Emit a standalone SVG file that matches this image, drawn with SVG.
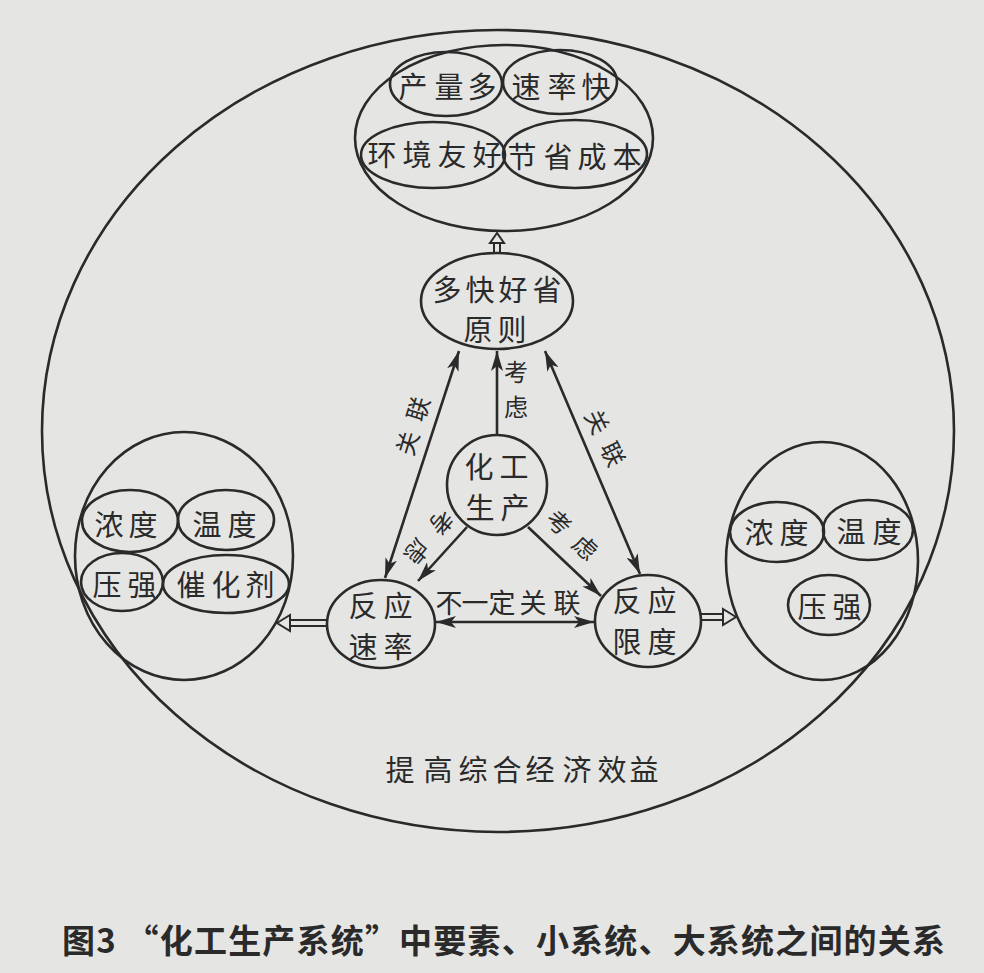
<svg xmlns="http://www.w3.org/2000/svg" width="984" height="973" viewBox="0 0 984 973">
<defs>
<style>
.ln{fill:none;stroke:#2a2a2a;stroke-width:2.6}
.t{font-family:"Noto Sans CJK SC","Noto Sans",sans-serif;font-size:29px;fill:#2a2a2a;text-anchor:middle}
.s{font-size:24px}
.cap{font-family:"Noto Sans CJK SC","Noto Sans",sans-serif;font-size:33px;font-weight:bold;fill:#2a2a2a}
.ho{fill:#e5e5e3;stroke:#2a2a2a;stroke-width:2}
</style>
<marker id="ah" viewBox="0 0 20 12" refX="20" refY="6" markerWidth="20" markerHeight="12" markerUnits="userSpaceOnUse" orient="auto-start-reverse"><path d="M0,0 L20,6 L0,12 L5,6 z" fill="#2a2a2a"/></marker>
</defs>
<rect width="984" height="973" fill="#e5e5e3"/>

<g id="system">
<ellipse class="ln" cx="498" cy="431" rx="456" ry="401"/>
<text class="t" x="400 438 473 507 540 577 612 644" y="781">提高综合经济效益</text>
</g>

<g id="goals">
<ellipse class="ln" cx="504" cy="138" rx="149" ry="93"/>
<ellipse class="ln" cx="446" cy="84" rx="56" ry="32"/>
<ellipse class="ln" cx="560" cy="82" rx="57" ry="32"/>
<ellipse class="ln" cx="433" cy="155" rx="72" ry="33"/>
<ellipse class="ln" cx="575" cy="154" rx="72" ry="34"/>
<text class="t" x="413 449 482" y="98">产量多</text>
<text class="t" x="526 562 596" y="98">速率快</text>
<text class="t" x="382 417 452 487" y="166">环境友好</text>
<text class="t" x="522 558 592 627" y="168">节省成本</text>
</g>

<g id="principle">
<ellipse class="ln" cx="497" cy="301" rx="76" ry="48"/>
<text class="t" x="447 480 513 547" y="301">多快好省</text>
<text class="t" x="478 512" y="341">原则</text>
</g>

<g id="production">
<circle class="ln" cx="497" cy="485" r="50"/>
<text class="t" x="479 514" y="478">化工</text>
<text class="t" x="480 515" y="519">生产</text>
</g>

<g id="rate">
<ellipse class="ln" cx="381" cy="624" rx="54" ry="44"/>
<text class="t" x="363 398" y="617">反应</text>
<text class="t" x="363 398" y="658">速率</text>
</g>

<g id="limit">
<ellipse class="ln" cx="648" cy="621" rx="53" ry="46"/>
<text class="t" x="627 662" y="612">反应</text>
<text class="t" x="627 662" y="653">限度</text>
</g>

<g id="rate-factors">
<ellipse class="ln" cx="184" cy="556" rx="109" ry="124"/>
<ellipse class="ln" cx="130" cy="521" rx="48" ry="31"/>
<ellipse class="ln" cx="226" cy="520" rx="48" ry="30"/>
<ellipse class="ln" cx="122" cy="582" rx="41" ry="29"/>
<ellipse class="ln" cx="226" cy="584" rx="63" ry="29"/>
<text class="t" x="109 143" y="536">浓度</text>
<text class="t" x="207 242" y="536">温度</text>
<text class="t" x="107 142" y="596">压强</text>
<text class="t" x="191 226 260" y="596">催化剂</text>
</g>

<g id="limit-factors">
<ellipse class="ln" cx="822" cy="561" rx="96" ry="119"/>
<ellipse class="ln" cx="777" cy="532" rx="47" ry="30"/>
<ellipse class="ln" cx="868" cy="530" rx="45" ry="30"/>
<ellipse class="ln" cx="829" cy="605" rx="41" ry="30"/>
<text class="t" x="759 794" y="544">浓度</text>
<text class="t" x="851 887" y="543">温度</text>
<text class="t" x="812 847" y="618">压强</text>
</g>

<g id="connectors">
<line class="ln" x1="497" y1="435" x2="497" y2="351" marker-end="url(#ah)"/>
<line class="ln" x1="459" y1="351" x2="385" y2="578" marker-start="url(#ah)" marker-end="url(#ah)"/>
<line class="ln" x1="545" y1="351" x2="640" y2="574" marker-start="url(#ah)" marker-end="url(#ah)"/>
<line class="ln" x1="467" y1="527" x2="418" y2="581" marker-end="url(#ah)"/>
<line class="ln" x1="528" y1="527" x2="601" y2="596" marker-end="url(#ah)"/>
<line class="ln" x1="436" y1="622" x2="594" y2="622" marker-start="url(#ah)" marker-end="url(#ah)"/>
<path class="ln" style="stroke-width:2" d="M289,620 H328 M289,626 H328"/>
<polygon class="ho" points="277,623 290,615 290,631"/>
<path class="ln" style="stroke-width:2" d="M700,614 H724 M700,620 H724"/>
<polygon class="ho" points="736,617 723,609 723,625"/>
<path class="ln" style="stroke-width:2" d="M494,253 V242 M500,253 V242"/>
<polygon class="ho" points="497,233 490,243 504,243"/>
<text class="t s" x="516" y="381">考</text>
<text class="t s" x="516" y="416">虑</text>
<text class="t s" transform="translate(413,426) rotate(-73)" x="-18 18" y="9">关联</text>
<text class="t s" transform="translate(605,438) rotate(64)" x="-18 18" y="9">关联</text>
<text class="t s" transform="translate(429,537) rotate(130)" x="-19 19" y="9">考虑</text>
<text class="t s" transform="translate(572,535) rotate(43)" x="-18 18" y="9">考虑</text>
<text class="t" style="font-size:27px" x="449 475 502 533 567" y="613">不一定关联</text>
</g>

<text class="cap" x="62" y="953" textLength="883" lengthAdjust="spacing">图3 “化工生产系统”中要素、小系统、大系统之间的关系</text>
</svg>
